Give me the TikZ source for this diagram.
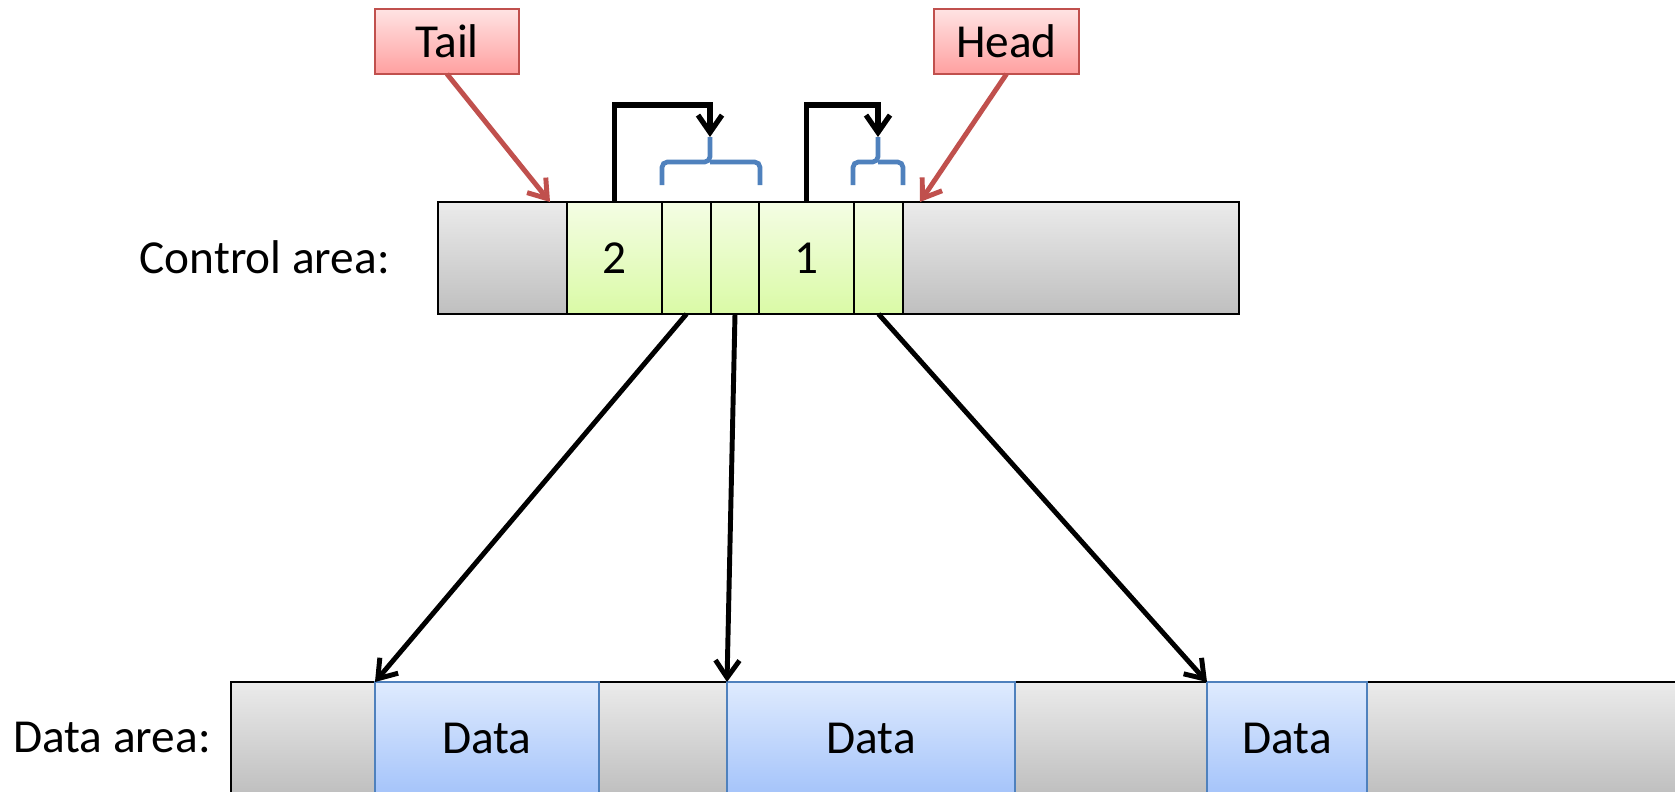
\documentclass[tikz,border=0pt]{standalone}
\usepackage{fontspec}
\setmainfont{Carlito}
\usetikzlibrary{arrows.meta,calc}
\definecolor{grayT}{HTML}{EBEBEB}
\definecolor{grayB}{HTML}{BFBFBF}
\definecolor{greenT}{HTML}{F4FDE4}
\definecolor{greenB}{HTML}{DAFAA6}
\definecolor{blueT}{HTML}{DFEBFE}
\definecolor{blueB}{HTML}{A5C4FA}
\definecolor{blueLine}{HTML}{4F81BD}
\definecolor{redT}{HTML}{FFE3E3}
\definecolor{redB}{HTML}{FFA0A0}
\definecolor{redLine}{HTML}{C0504D}
\tikzset{
  txt/.style={font=\fontsize{35.5}{42}\selectfont, text=black},
  cellbase/.style={txt, inner sep=0pt, outer sep=0pt, minimum height=84pt, line width=1.8pt},
  graycell/.style={cellbase, draw=black, top color=grayT, bottom color=grayB},
  greencell/.style={cellbase, draw=black, top color=greenT, bottom color=greenB},
  bluecell/.style={cellbase, draw=blueLine, top color=blueT, bottom color=blueB, line width=1.5pt},
  ptrbox/.style={txt, inner sep=0pt, outer sep=0pt, minimum width=108pt, minimum height=48.75pt,
    draw=redLine, line width=1.5pt, top color=redT, bottom color=redB},
  lbl/.style={txt, inner sep=0pt, anchor=base east},
  barb/.style={-{Straight Barb[length=13pt,width=18pt]}},
  ptrarrow/.style={barb, draw=black, line width=3.7pt},
  looparrow/.style={barb, draw=black, line width=3.9pt},
  redarrow/.style={barb, draw=redLine, line width=3.7pt},
  bracket/.style={draw=blueLine, line width=3.5pt, rounded corners=4pt},
}
\begin{document}
\begin{tikzpicture}[x=0.75pt,y=-0.75pt]
\useasboundingbox (0,0) rectangle (1675,792);
\clip (0,0) rectangle (1675,792);
\fill[white] (0,0) rectangle (1675,792);

% control area
\node[graycell, minimum width=96.75pt] (g1) at (502.5,258) {};
\node[graycell, minimum width=252pt] (g2) at (1071,258) {};
\node[greencell, minimum width=71.25pt] (c2) at (614.5,258) {2};
\node[greencell, minimum width=36.75pt] (e1) at (686.5,258) {};
\node[greencell, minimum width=36pt] (e2) at (735,258) {};
\node[greencell, minimum width=71.25pt] (c1) at (806.5,258) {1};
\node[greencell, minimum width=36.75pt] (e3) at (878.5,258) {};
\node[lbl] (clbl) at (390,273) {Control area:};

% data area
\node[graycell, minimum width=108pt] (dg1) at (303,738) {};
\node[graycell, minimum width=96pt] (dg2) at (663,738) {};
\node[graycell, minimum width=144pt] (dg3) at (1111,738) {};
\node[graycell, minimum width=264.75pt] (dg4) at (1543.5,738) {};
\node[bluecell, minimum width=168pt] (d1) at (487,738) {Data};
\node[bluecell, minimum width=216pt] (d2) at (871,738) {Data};
\node[bluecell, minimum width=120pt] (d3) at (1287,738) {Data};
\node[lbl] (dlbl) at (211,752) {Data area:};

% pointers
\node[ptrbox] (tail) at (447,41.5) {Tail};
\node[ptrbox, minimum width=108.75pt] (head) at (1006.5,41.5) {Head};
\draw[redarrow] (tail.south) -- ($(g1.north east)+(-17,0)$);
\draw[redarrow] (head.south) -- ($(e3.north east)+(17,0)$);

% braces
\coordinate (br1) at (710,137);
\coordinate (br2) at (878,137);
\draw[bracket] (662,185) -- (662,162) -- (710,162) -- (br1);
\draw[bracket] (760,185) -- (760,162) -- (710,162);
\draw[bracket] (853,185) -- (853,162) -- (878,162) -- (br2);
\draw[bracket] (903,185) -- (903,162) -- (878,162);

% loop arrows
\draw[looparrow] (c2.north) -- ++(0,-97) -| (br1);
\draw[looparrow] (c1.north) -- ++(0,-97) -| (br2);

% control to data
\draw[ptrarrow] (e1.south) -- (d1.north west);
\draw[ptrarrow] (e2.south) -- (d2.north west);
\draw[ptrarrow] (e3.south) -- (d3.north west);
\end{tikzpicture}
\end{document}
